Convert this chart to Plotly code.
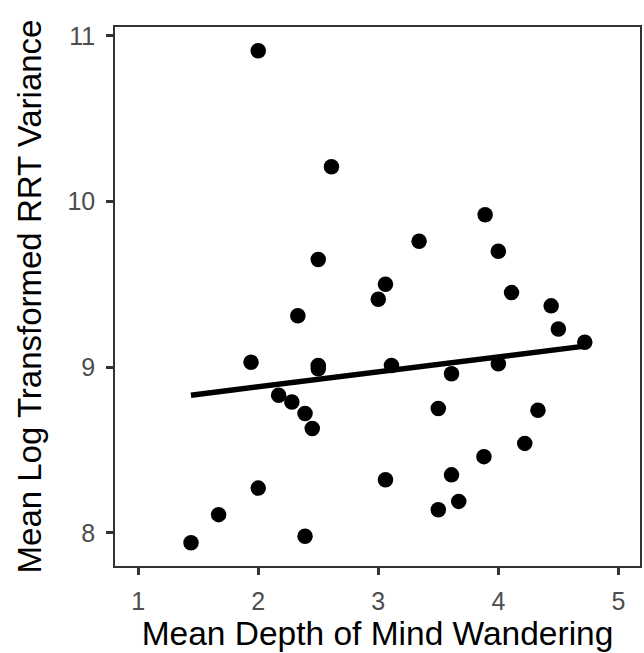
import numpy as np
import plotly.graph_objects as go

# Per-participant means
depth = [2.00, 2.61, 2.50, 3.89, 3.34, 4.00, 3.06, 3.00, 4.11, 4.44, 4.50, 4.72,
         2.33, 1.94, 2.50, 2.50, 2.17, 2.28, 2.39, 2.45, 2.00, 1.67, 1.44, 2.39,
         3.11, 3.61, 4.00, 3.50, 4.33, 4.22, 3.88, 3.06, 3.61, 3.67, 3.50]
rrt_var = [10.91, 10.21, 9.65, 9.92, 9.76, 9.70, 9.50, 9.41, 9.45, 9.37, 9.23, 9.15,
           9.31, 9.03, 9.01, 8.99, 8.83, 8.79, 8.72, 8.63, 8.27, 8.11, 7.94, 7.98,
           9.01, 8.96, 9.02, 8.75, 8.74, 8.54, 8.46, 8.32, 8.35, 8.19, 8.14]

x_ticks = [1, 2, 3, 4, 5]
y_ticks = [8, 9, 10, 11]

# Least-squares fit line over the observed depth range
slope, intercept = np.polyfit(depth, rrt_var, 1)
fit_x = np.array([min(depth), max(depth)])
fit_y = intercept + slope * fit_x

fig = go.Figure()
fig.add_trace(go.Scatter(
    x=depth, y=rrt_var, mode="markers",
    marker=dict(size=15.5, color="black", line=dict(width=0)),
    showlegend=False, hoverinfo="skip"))
fig.add_trace(go.Scatter(
    x=fit_x, y=fit_y, mode="lines",
    line=dict(color="black", width=5.5),
    showlegend=False, hoverinfo="skip"))

font_family = "Liberation Sans, Arial, sans-serif"
axis_common = dict(
    showgrid=False, zeroline=False,
    showline=True, linecolor="#333333", linewidth=1.5, mirror=True,
    ticks="outside", ticklen=7, tickwidth=2.5, tickcolor="#333333",
    tickfont=dict(family=font_family, size=25, color="#4d4d4d"),
)

fig.update_layout(
    width=644, height=653,
    margin=dict(l=115, r=2, t=27, b=87),
    paper_bgcolor="white", plot_bgcolor="white",
    font=dict(family=font_family),
    xaxis=dict(range=[0.807, 5.18], tickvals=x_ticks, ticklabelstandoff=5,
               title=dict(text="Mean Depth of Mind Wandering",
                          font=dict(family=font_family, size=33.5, color="black"),
                          standoff=5),
               **axis_common),
    yaxis=dict(range=[7.80, 11.053], tickvals=y_ticks, ticklabelstandoff=6,
               title=dict(text="Mean Log Transformed RRT Variance",
                          font=dict(family=font_family, size=33, color="black"),
                          standoff=16),
               **axis_common),
)

fig.write_html("out.html")
